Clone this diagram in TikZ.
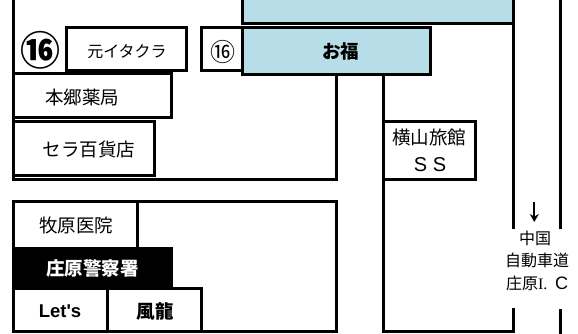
\documentclass[tikz,border=0pt]{standalone}
\usepackage{fontspec}
\usetikzlibrary{arrows.meta}
\setmainfont{Noto Sans CJK JP}
\newfontfamily\latinsans{Liberation Sans}
\newfontfamily\latinserif{Liberation Serif}
\definecolor{shopblue}{HTML}{B7DDE8}
\tikzset{
  wall/.style={draw=black,line width=3pt,line cap=rect,line join=miter},
  label/.style={inner sep=0pt,text=black,font=\fontsize{18.5}{20}\selectfont},
  smalllabel/.style={label,font=\fontsize{16}{18}\selectfont},
  boldlabel/.style={label,font=\bfseries\fontsize{18.5}{20}\selectfont},
}
\begin{document}
\begin{tikzpicture}[x=1pt,y=-1pt]
\useasboundingbox (0,0) rectangle (578,333);
% blue buildings
\fill[shopblue] (242,-4) rectangle (513,23.5);
\draw[wall] (242,-4) -- (242,23.5) -- (513,23.5);
\draw[wall,fill=shopblue] (242,27.5) rectangle (430.7,74.5);
% left block
\draw[wall] (13.5,-4) -- (13.5,179.5) -- (336.5,179.5) -- (336.5,74.5);
\draw[wall] (13.5,73.5) -- (171.5,73.5) -- (171.5,117) -- (13.5,117);
\draw[wall] (13.5,121.5) -- (154.5,121.5) -- (154.5,175.5) -- (13.5,175.5);
% small boxes
\draw[wall] (66,27.5) rectangle (186.5,70);
\draw[wall] (242,27.5) -- (201.5,27.5) -- (201.5,70) -- (242,70);
% road to the south
\draw[wall] (383.5,74.5) -- (383.5,331) -- (513,331) -- (513,309);
\draw[wall] (383.5,121) -- (475.5,121) -- (475.5,179.5) -- (383.5,179.5);
\draw[wall,line cap=butt] (513,-4) -- (513,229);
\draw[wall,line cap=butt] (560.5,-4) -- (560.5,229);
\draw[wall,line cap=butt] (560.5,309) -- (560.5,337);
% lower block
\draw[wall] (13.5,201) rectangle (336.5,331);
\draw[wall] (137.5,201) -- (137.5,247);
\fill[black] (12,246.5) rectangle (172.7,287.5);
\draw[wall] (13.5,288.5) -- (201.7,288.5) -- (201.7,331);
\draw[wall] (107.5,288.5) -- (107.5,331);
% arrow
\coordinate (arrowstart) at (534.3,202);
\coordinate (arrowend) at (534.3,222);
\draw[line width=2pt,-{Stealth[length=8pt,width=9pt]}] (arrowstart) -- (arrowend);
% labels
\node[inner sep=0pt,font=\bfseries\fontsize{40}{44}\selectfont] (bignum) at (40,50) {⑯};
\node[smalllabel] (motoitakura) at (127,51.7) {元イタクラ};
\node[inner sep=0pt,font=\fontsize{25}{28}\selectfont] (smallnum) at (222.7,51.7) {⑯};
\node[boldlabel] (ofuku) at (340.7,51.7) {お福};
\node[label] (hongo) at (82,97) {本郷薬局};
\node[label] (sera) at (89,149) {セラ百貨店};
\node[label] (yokoyama) at (429,137) {横山旅館};
\node[label,font=\latinsans\fontsize{20}{22}\selectfont] (ss) at (430,165) {S S};
\node[label] (makihara) at (76,225.7) {牧原医院};
\node[boldlabel,text=white] (police) at (92.3,268) {庄原警察署};
\node[boldlabel,font=\latinsans\bfseries\fontsize{18.5}{20}\selectfont] (lets) at (60,311.5) {Let's};
\node[boldlabel] (furyu) at (155,311.5) {風龍};
\node[smalllabel] (chugoku) at (535,238) {中国};
\node[smalllabel] (jidosha) at (537,260) {自動車道};
\node[smalllabel] (shobara) at (537,283) {庄原{\latinserif I.}\,{\latinsans\fontsize{18}{20}\selectfont\ C}};
\end{tikzpicture}
\end{document}
